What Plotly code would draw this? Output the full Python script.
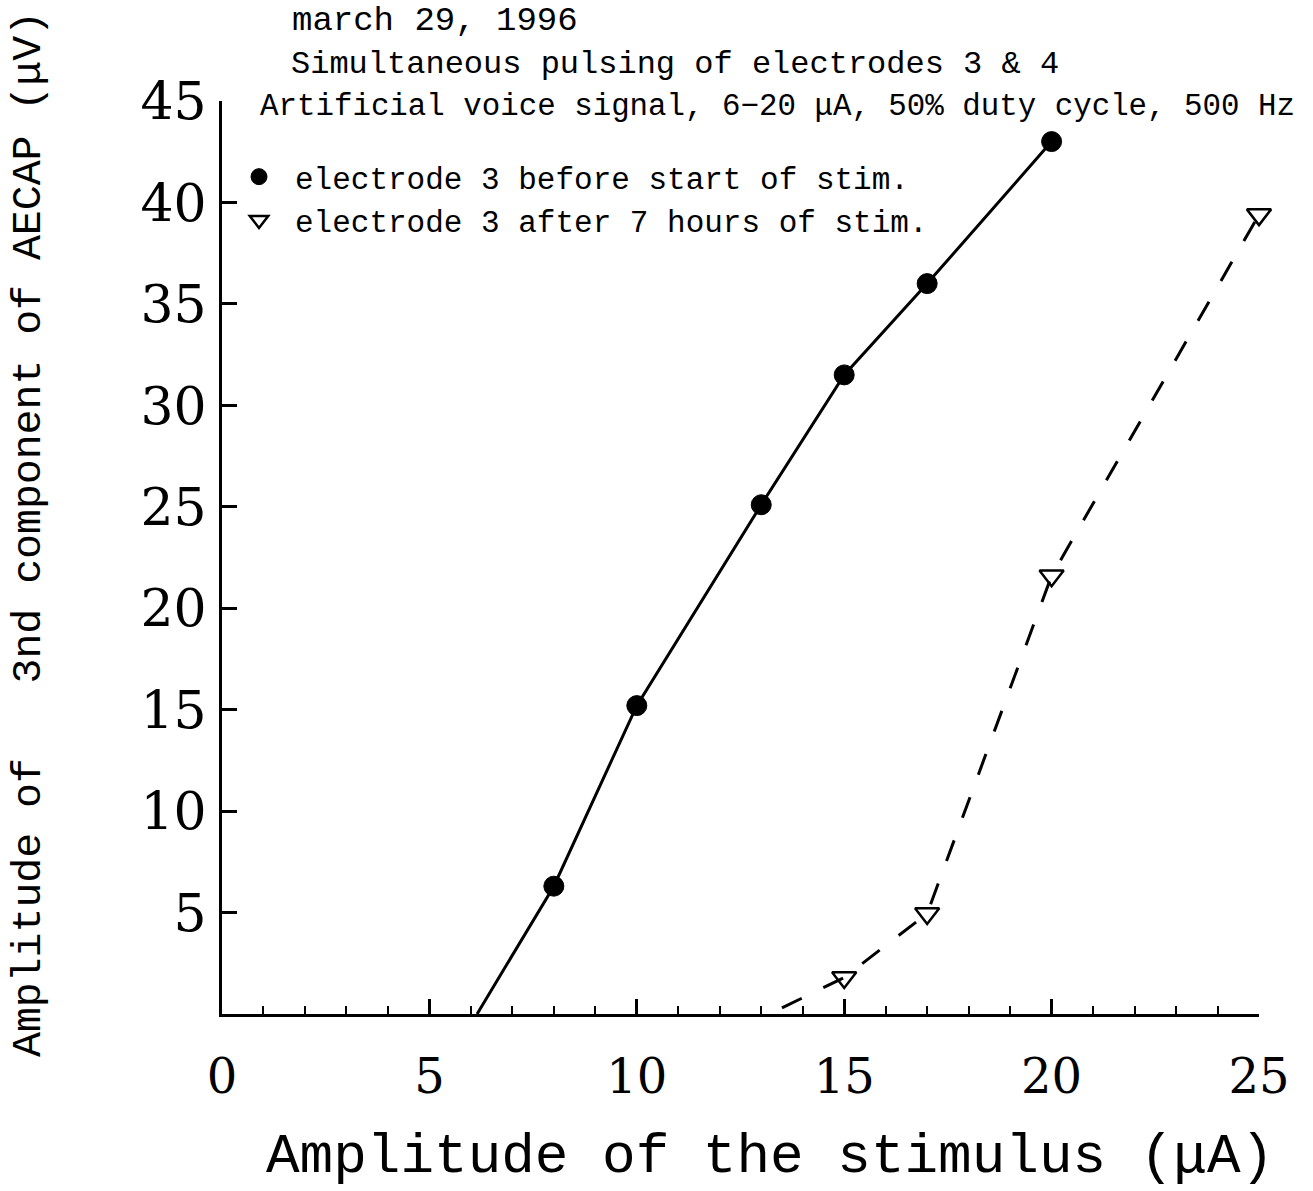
import plotly.graph_objects as go

# ---- data ----
stim_before = [6.15, 8, 10, 13, 15, 17, 20]
aecap_before = [0.0, 6.3, 15.2, 25.1, 31.5, 36.0, 43.0]

stim_after = [13.5, 15, 17, 20, 25]
aecap_after = [0.3, 1.8, 4.95, 21.6, 39.4]

x_ticks = [0, 5, 10, 15, 20, 25]
y_ticks = [5, 10, 15, 20, 25, 30, 35, 40, 45]

title_lines = [
    "march 29, 1996",
    "Simultaneous pulsing of electrodes 3 & 4",
    "Artificial voice signal, 6\u221220 \u03bcA, 50% duty cycle, 500 Hz",
]
legend_names = [
    "electrode 3 before start of stim.",
    "electrode 3 after 7 hours of stim.",
]
x_title = "Amplitude of the stimulus (\u03bcA)"
y_title = "Amplitude of\u00a0\u00a0 3nd component of AECAP (\u03bcV)"

# ---- layout geometry ----
W, H = 1313, 1191
L, R, T, B = 222, 54, 101, 177
PW, PH = W - L - R, H - T - B


def px(xp):
    return (xp - L) / PW


def py(yp):
    return (H - B - yp) / PH


MONO = "Liberation Mono"
SERIF = "DejaVu Serif"

fig = go.Figure()

# lines (no legend)
fig.add_trace(go.Scatter(
    x=stim_before, y=aecap_before, mode="lines",
    line=dict(color="black", width=3), showlegend=False, cliponaxis=False,
    hoverinfo="skip"))
fig.add_trace(go.Scatter(
    x=stim_after, y=aecap_after, mode="lines",
    line=dict(color="black", width=3, dash="22px,24px"), showlegend=False,
    cliponaxis=False, hoverinfo="skip"))

# markers (with legend)
fig.add_trace(go.Scatter(
    x=stim_before[1:], y=aecap_before[1:], mode="markers",
    name=legend_names[0],
    marker=dict(symbol="circle", size=20, color="black",
                line=dict(color="black", width=1)),
    cliponaxis=False))
fig.add_trace(go.Scatter(
    x=stim_after[1:], y=aecap_after[1:], mode="markers",
    name=legend_names[1],
    marker=dict(symbol="triangle-down-open", size=21, color="black",
                line=dict(color="black", width=2.5)),
    cliponaxis=False))

annotations = []
title_pos = [(290, 21, 34), (289, 64, 32), (258, 107, 30.8)]
for text, (xp, yp, fs) in zip(title_lines, title_pos):
    annotations.append(dict(
        text=text, xref="paper", yref="paper", x=px(xp), y=py(yp),
        xanchor="left", yanchor="middle", showarrow=False,
        font=dict(family=MONO, size=fs, color="black")))

annotations.append(dict(
    text=x_title, xref="paper", yref="paper", x=px(770), y=py(1157),
    xanchor="center", yanchor="middle", showarrow=False,
    font=dict(family=MONO, size=56, color="black")))

annotations.append(dict(
    text=y_title, xref="paper", yref="paper", x=px(28), y=py(534),
    xanchor="center", yanchor="middle", showarrow=False, textangle=-90,
    font=dict(family=MONO, size=41.5, color="black")))

fig.update_layout(
    width=W, height=H, autosize=False,
    margin=dict(l=L, r=R, t=T, b=B, pad=0),
    paper_bgcolor="white", plot_bgcolor="white",
    annotations=annotations,
    showlegend=True,
    legend=dict(
        x=px(223), y=py(150), xanchor="left", yanchor="top",
        bgcolor="rgba(0,0,0,0)", borderwidth=0,
        font=dict(family=MONO, size=31, color="black"),
        itemwidth=62, tracegroupgap=0),
    xaxis=dict(
        range=[0, 25], tickmode="array", tickvals=x_ticks,
        ticktext=[str(v) for v in x_ticks],
        ticks="inside", ticklen=15, tickwidth=2.5, tickcolor="black",
        minor=dict(dtick=1, tick0=0, ticks="inside", ticklen=8,
                   tickwidth=2, tickcolor="black", showgrid=False),
        showline=True, linewidth=3, linecolor="black",
        showgrid=False, zeroline=False,
        tickfont=dict(family=SERIF, size=48, color="black"),
        ticklabelstandoff=18),
    yaxis=dict(
        range=[0, 45], tickmode="array", tickvals=y_ticks,
        ticktext=[str(v) for v in y_ticks],
        ticks="inside", ticklen=15, tickwidth=2.5, tickcolor="black",
        showline=True, linewidth=3, linecolor="black",
        showgrid=False, zeroline=False,
        tickfont=dict(family=SERIF, size=52, color="black"),
        ticklabelstandoff=2),
)

fig.write_html("out.html")
